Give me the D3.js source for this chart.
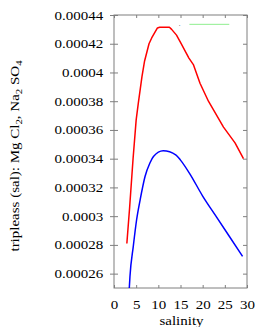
<!DOCTYPE html>
<html>
<head>
<meta charset="utf-8">
<script src="https://cdn.jsdelivr.net/npm/d3@7"></script>
<style>
  body { margin: 0; background: #fff; }
  text { font-family: "Liberation Serif", "DejaVu Serif", serif; }
</style>
</head>
<body>
<div id="chart"></div>
<script>
// salinity vs value
const redSal = [2.9, 3.5, 4.3, 5.0, 5.5, 6.3, 6.9, 7.9, 8.5, 9.8, 10.3, 12.5, 13.0, 14.1, 15.0, 16.9, 17.9, 19.4, 21.3, 24.7, 27.3, 29.2];
const redVal = [0.000281, 0.000305, 0.000340, 0.000367, 0.000379, 0.000397, 0.000408, 0.000420, 0.000424, 0.000431, 0.0004315, 0.0004315, 0.000430, 0.000426, 0.000421, 0.000410, 0.0004055, 0.0003925, 0.000380, 0.000362, 0.000351, 0.000340];

const blueSal = [3.45, 3.6, 4.35, 5.1, 5.9, 7.0, 8.1, 8.9, 11.1, 14.0, 15.0, 17.0, 20.0, 23.0, 26.0, 29.0];
const blueVal = [0.00025, 0.000258, 0.000279, 0.0002975, 0.0003114, 0.0003276, 0.000337, 0.0003415, 0.0003455, 0.0003425, 0.000339, 0.000330, 0.000314, 0.000300, 0.000286, 0.000272];

const xTicks = [0, 5, 10, 15, 20, 25, 30];
const yTicks = [0.00026, 0.00028, 0.0003, 0.00032, 0.00034, 0.00036, 0.00038, 0.0004, 0.00042, 0.00044];

const margin = { top: 15, right: 26, bottom: 39, left: 114 };
const W = 273, H = 327;
const width = W - margin.left - margin.right;
const height = H - margin.top - margin.bottom;
const stretch = 1.2;
const frameColor = "#7f7f7f";

const svg = d3.select("#chart").append("svg")
  .attr("width", W)
  .attr("height", H);
const g = svg.append("g")
  .attr("transform", "translate(" + margin.left + "," + margin.top + ")");

const x = d3.scaleLinear().domain([0, 30]).range([0, width]);
const y = d3.scaleLinear().domain([0.00025, 0.00044]).range([height, 0]);

g.append("clipPath").attr("id", "clip")
  .append("rect").attr("width", width).attr("height", height);

// left axis
const yAx = g.append("g")
  .call(d3.axisLeft(y).tickValues(yTicks).tickFormat(d => String(d)).tickSize(4).tickSizeOuter(0));
yAx.selectAll(".tick line").attr("x1", 4);
yAx.selectAll("text")
  .attr("x", -10.7 / stretch)
  .attr("transform", "scale(" + stretch + ",1)")
  .style("font-size", "12.5px")
  .attr("fill", "#000");

// right axis (mirror)
g.append("g")
  .attr("transform", "translate(" + width + ",0)")
  .call(d3.axisLeft(y).tickValues(yTicks).tickFormat("").tickSize(4).tickSizeOuter(0));

// bottom axis
const xAx = g.append("g")
  .attr("transform", "translate(0," + height + ")")
  .call(d3.axisBottom(x).tickValues(xTicks).tickFormat(d => String(d)).tickSize(-3).tickSizeOuter(0).tickPadding(12));
xAx.selectAll("text")
  .attr("transform", "scale(" + stretch + ",1)")
  .style("font-size", "12.5px")
  .attr("fill", "#000");

// top axis (mirror)
g.append("g")
  .call(d3.axisTop(x).tickValues(xTicks).tickFormat("").tickSize(-3).tickSizeOuter(0));

g.selectAll(".domain").remove();
g.selectAll(".tick line").attr("stroke", frameColor);

// frame
g.append("rect")
  .attr("width", width).attr("height", height)
  .attr("fill", "none").attr("stroke", frameColor).attr("stroke-width", 1);

const redData = redSal.map((s, i) => [s, redVal[i]]);
const blueData = blueSal.map((s, i) => [s, blueVal[i]]);

const line = d3.line().x(d => x(d[0])).y(d => y(d[1]));

g.append("path")
  .datum(redData)
  .attr("clip-path", "url(#clip)")
  .attr("fill", "none").attr("stroke", "#ff0000").attr("stroke-width", 1.5)
  .attr("stroke-linejoin", "round")
  .attr("d", line.curve(d3.curveLinear));

g.append("path")
  .datum(blueData)
  .attr("clip-path", "url(#clip)")
  .attr("fill", "none").attr("stroke", "#0000ff").attr("stroke-width", 1.5)
  .attr("d", line.curve(d3.curveMonotoneX));

// key
const key = g.append("g").attr("transform", "translate(" + x(14.6) + "," + y(0.0004335) + ")");
key.append("text").attr("x", 0).attr("y", 2).style("font-size", "7px").attr("fill", "#555").text(".");
key.append("line").attr("x1", x(17) - x(14.6)).attr("x2", x(26) - x(14.6))
  .attr("stroke", "#90ee90").attr("stroke-width", 1);

// labels
svg.append("text")
  .attr("transform", "translate(" + (margin.left + width / 2 + 1) + ",325) scale(" + stretch + ",1)")
  .attr("text-anchor", "middle")
  .style("font-size", "12.5px")
  .text("salinity");

const yl = svg.append("text")
  .attr("transform", "translate(19,156) rotate(-90) scale(" + stretch + ",1)")
  .attr("text-anchor", "middle")
  .style("font-size", "12.5px");
yl.append("tspan").text("tripleass (sal): Mg Cl");
yl.append("tspan").attr("dy", 3).style("font-size", "9px").text("2");
yl.append("tspan").attr("dy", -3).text(", Na");
yl.append("tspan").attr("dy", 3).style("font-size", "9px").text("2");
yl.append("tspan").attr("dy", -3).text(" SO");
yl.append("tspan").attr("dy", 3).style("font-size", "9px").text("4");
</script>
</body>
</html>
